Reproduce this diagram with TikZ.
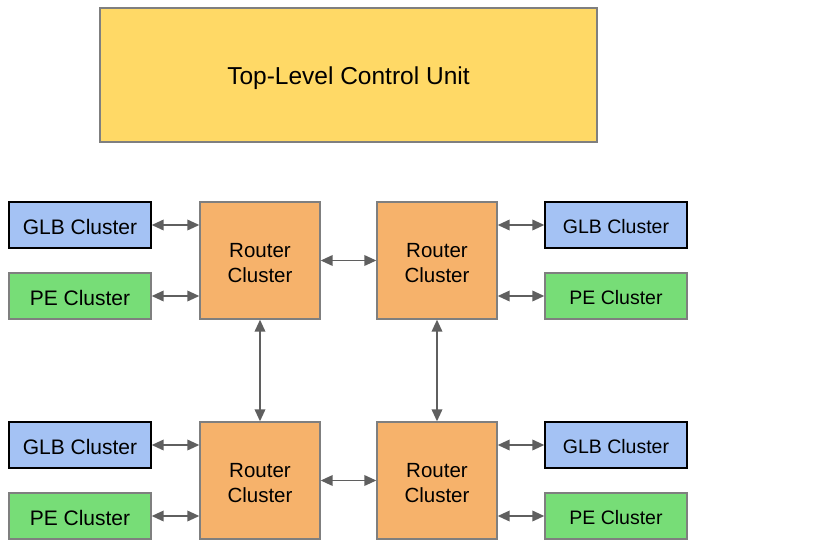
\documentclass[tikz,border=0pt]{standalone}
\usepackage{fontspec}
\setmainfont{Liberation Sans}
\usetikzlibrary{arrows.meta}
\definecolor{topfill}{HTML}{FFD966}
\definecolor{glbfill}{HTML}{A4C2F4}
\definecolor{pefill}{HTML}{77DD77}
\definecolor{rfill}{HTML}{F6B26B}
\definecolor{edgegray}{HTML}{7F7F7F}
\definecolor{arrgray}{HTML}{5F5F5F}
\begin{document}
\begin{tikzpicture}[x=1pt,y=-1pt,
  box/.style={draw=edgegray,line width=1.3pt,inner sep=0pt,align=center},
  topbox/.style={box,fill=topfill,minimum width=497pt,minimum height=134pt,font=\fontsize{24.5}{29}\selectfont,text height=18.5pt,text depth=0pt},
  glbL/.style={box,draw=black,fill=glbfill,minimum width=142pt,minimum height=46pt,font=\fontsize{21}{25}\selectfont,text height=18pt,text depth=0pt},
  peL/.style={box,fill=pefill,minimum width=142pt,minimum height=46pt,font=\fontsize{21}{25}\selectfont,text height=18pt,text depth=0pt},
  glbR/.style={glbL,font=\fontsize{19.5}{24}\selectfont,text height=17pt},
  peR/.style={peL,font=\fontsize{19.5}{24}\selectfont,text height=17pt},
  router/.style={box,fill=rfill,minimum width=120pt,minimum height=117pt,font=\fontsize{20.5}{25}\selectfont,text height=43.5pt,text depth=0pt},
  link/.style={draw=arrgray,line width=1.9pt,{Triangle[length=12pt,width=10.5pt]}-{Triangle[length=12pt,width=10.5pt]}}
]
\useasboundingbox (0,0) rectangle (838,549);
\node[topbox] (top) at (348.5,75) {Top-Level Control Unit};
% top row
\node[glbL] (g1) at (80,225) {GLB Cluster};
\node[peL] (p1) at (80,296) {PE Cluster};
\node[router] (r1) at (260,260.5) {Router\\Cluster};
\node[router] (r2) at (437,260.5) {Router\\Cluster};
\node[glbR] (g2) at (616,225) {GLB Cluster};
\node[peR] (p2) at (616,296) {PE Cluster};
% bottom row
\node[glbL] (g3) at (80,445) {GLB Cluster};
\node[peL] (p3) at (80,516) {PE Cluster};
\node[router] (r3) at (260,480.5) {Router\\Cluster};
\node[router] (r4) at (437,480.5) {Router\\Cluster};
\node[glbR] (g4) at (616,445) {GLB Cluster};
\node[peR] (p4) at (616,516) {PE Cluster};
% links
\draw[link] (g1.east) -- (r1.west |- g1.east);
\draw[link] (p1.east) -- (r1.west |- p1.east);
\draw[link] (r2.east |- g2.west) -- (g2.west);
\draw[link] (r2.east |- p2.west) -- (p2.west);
\draw[link] (g3.east) -- (r3.west |- g3.east);
\draw[link] (p3.east) -- (r3.west |- p3.east);
\draw[link] (r4.east |- g4.west) -- (g4.west);
\draw[link] (r4.east |- p4.west) -- (p4.west);
\draw[link] (r1) -- (r2);
\draw[link] (r3) -- (r4);
\draw[link] (r1) -- (r3);
\draw[link] (r2) -- (r4);
\end{tikzpicture}
\end{document}
